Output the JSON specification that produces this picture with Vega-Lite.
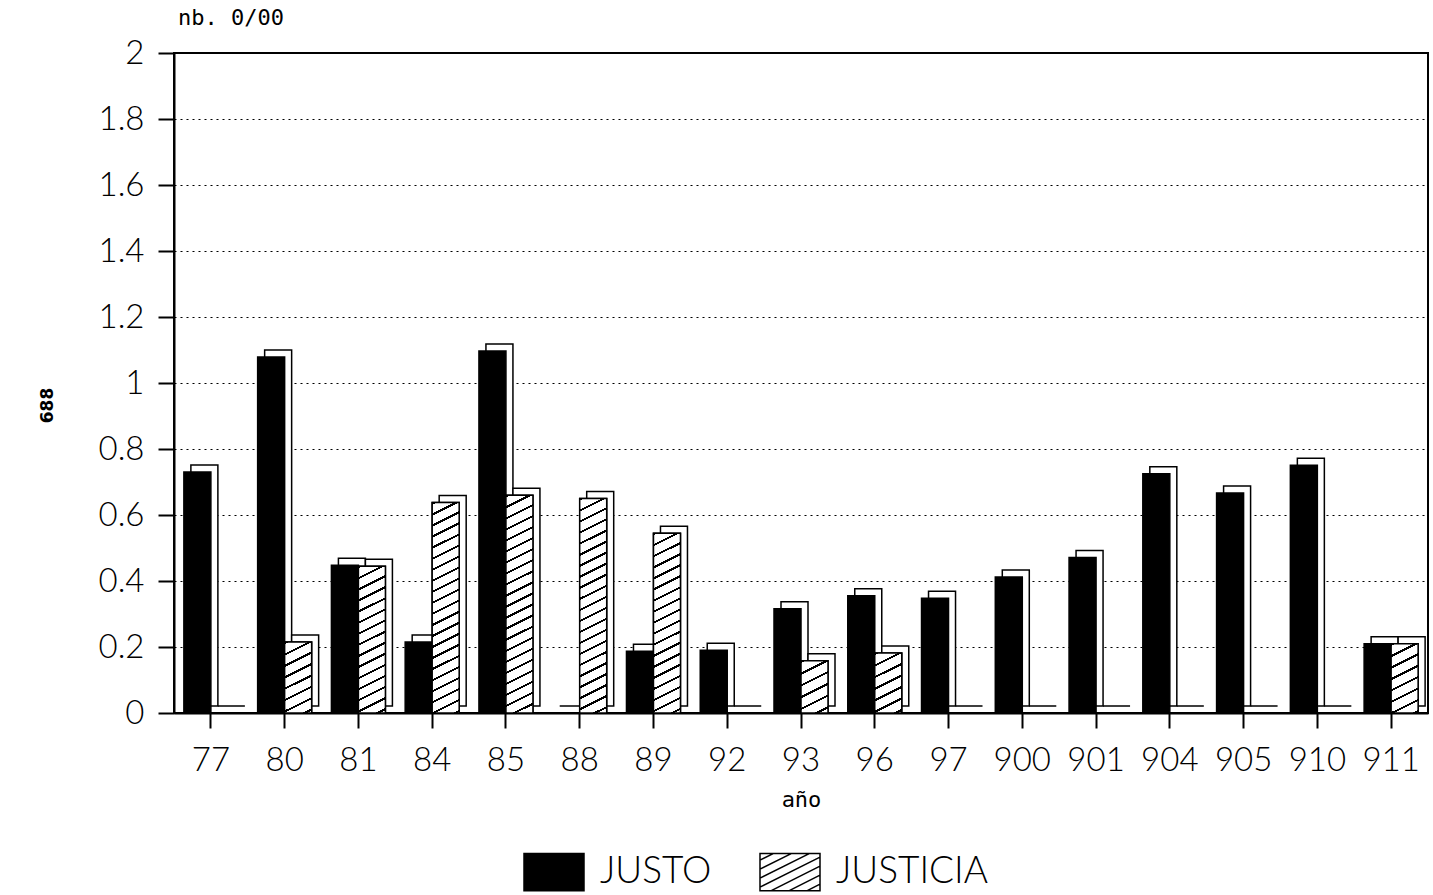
{
  "$schema": "https://vega.github.io/schema/vega-lite/v6.json",
  "width": 1254,
  "height": 660,
  "autosize": {"type": "none"},
  "padding": {"left": 174, "top": 53, "right": 5, "bottom": 182},
  "background": "white",
  "title": {"text": "nb. 0/00", "anchor": "start", "frame": "group", "font": "DejaVu Sans Mono", "fontSize": 22, "fontWeight": "normal", "color": "black", "offset": 7, "dx": 4},
  "data": {"values": [
    {"year": "77", "series": "JUSTO", "value": 0.73}, {"year": "77", "series": "JUSTICIA", "value": 0},
    {"year": "80", "series": "JUSTO", "value": 1.079}, {"year": "80", "series": "JUSTICIA", "value": 0.215},
    {"year": "81", "series": "JUSTO", "value": 0.448}, {"year": "81", "series": "JUSTICIA", "value": 0.445},
    {"year": "84", "series": "JUSTO", "value": 0.215}, {"year": "84", "series": "JUSTICIA", "value": 0.638},
    {"year": "85", "series": "JUSTO", "value": 1.097}, {"year": "85", "series": "JUSTICIA", "value": 0.66},
    {"year": "88", "series": "JUSTO", "value": 0}, {"year": "88", "series": "JUSTICIA", "value": 0.65},
    {"year": "89", "series": "JUSTO", "value": 0.187}, {"year": "89", "series": "JUSTICIA", "value": 0.545},
    {"year": "92", "series": "JUSTO", "value": 0.19}, {"year": "92", "series": "JUSTICIA", "value": 0},
    {"year": "93", "series": "JUSTO", "value": 0.316}, {"year": "93", "series": "JUSTICIA", "value": 0.158},
    {"year": "96", "series": "JUSTO", "value": 0.355}, {"year": "96", "series": "JUSTICIA", "value": 0.182},
    {"year": "97", "series": "JUSTO", "value": 0.348}, {"year": "97", "series": "JUSTICIA", "value": 0},
    {"year": "900", "series": "JUSTO", "value": 0.412}, {"year": "900", "series": "JUSTICIA", "value": 0},
    {"year": "901", "series": "JUSTO", "value": 0.471}, {"year": "901", "series": "JUSTICIA", "value": 0},
    {"year": "904", "series": "JUSTO", "value": 0.725}, {"year": "904", "series": "JUSTICIA", "value": 0},
    {"year": "905", "series": "JUSTO", "value": 0.667}, {"year": "905", "series": "JUSTICIA", "value": 0},
    {"year": "910", "series": "JUSTO", "value": 0.751}, {"year": "910", "series": "JUSTICIA", "value": 0},
    {"year": "911", "series": "JUSTO", "value": 0.21}, {"year": "911", "series": "JUSTICIA", "value": 0.21}
  ]},
  "encoding": {
    "x": {
      "field": "year", "type": "ordinal",
      "sort": ["77","80","81","84","85","88","89","92","93","96","97","900","901","904","905","910","911"],
      "scale": {"paddingInner": 0, "paddingOuter": 0},
      "title": "año",
      "axis": {"labelAngle": 0, "labelFont": "Lato", "labelFontWeight": 300, "labelFontSize": 33, "labelColor": "black", "labelPadding": 16,
               "tickSize": 15, "tickWidth": 2, "tickColor": "black", "domainColor": "black", "domainWidth": 2, "grid": false,
               "titleFont": "DejaVu Sans Mono", "titleFontSize": 22, "titleFontWeight": "normal", "titleColor": "black", "titlePadding": 12}
    },
    "y": {
      "field": "value", "type": "quantitative",
      "scale": {"domain": [0, 2], "nice": false},
      "title": "688",
      "axis": {"values": [0, 0.2, 0.4, 0.6, 0.8, 1, 1.2, 1.4, 1.6, 1.8, 2], "format": "~g",
               "labelFont": "Lato", "labelFontWeight": 300, "labelFontSize": 33, "labelColor": "black", "labelPadding": 14,
               "tickSize": 16, "tickWidth": 2, "tickColor": "black", "domainColor": "black", "domainWidth": 2,
               "grid": true, "gridColor": "black", "gridDash": [2, 4], "gridWidth": 1.2,
               "titleFont": "DejaVu Sans", "titleFontSize": 17, "titleFontWeight": "bold", "titleColor": "black", "titlePadding": 42, "titleY": 352}
    }
  },
  "layer": [
    {
      "transform": [{"filter": "datum.series === 'JUSTO'"}],
      "mark": {"type": "bar", "fill": "white", "stroke": "black", "strokeWidth": 1.5, "width": 27, "xOffset": -6.5, "yOffset": -7}
    },
    {
      "transform": [{"filter": "datum.series === 'JUSTICIA'"}],
      "mark": {"type": "bar", "fill": "white", "stroke": "black", "strokeWidth": 1.5, "width": 27, "xOffset": 20.5, "yOffset": -7}
    },
    {
      "mark": {"type": "bar", "strokeWidth": 1.5},
      "encoding": {
        "xOffset": {"field": "series", "type": "nominal", "scale": {"domain": ["JUSTO", "JUSTICIA"], "paddingInner": 0, "paddingOuter": 0.366}},
        "fill": {
          "field": "series", "type": "nominal",
          "scale": {"domain": ["JUSTO", "JUSTICIA"], "range": ["black", "white"]},
          "legend": {
            "title": null, "orient": "none", "legendX": 349, "legendY": 788, "direction": "horizontal",
            "labelFont": "Lato", "labelFontWeight": 300, "labelFontSize": 37, "labelColor": "black", "labelLimit": 400,
            "labelOffset": 15, "columnPadding": 45,
            "symbolType": "M-1,-0.62H1V0.62H-1Z M-1,-0.4L-0.56,-0.62 M-1,-0.1L0.04,-0.62 M-1,0.2L0.64,-0.62 M-1,0.5L1,-0.5 M-0.64,0.62L1,-0.2 M-0.04,0.62L1,0.1 M0.56,0.62L1,0.4",
            "symbolSize": 3600, "symbolStrokeWidth": 1.5
          }
        },
        "stroke": {
          "field": "series", "type": "nominal",
          "scale": {"domain": ["JUSTO", "JUSTICIA"], "range": ["black", "black"]},
          "legend": {
            "title": null, "orient": "none", "legendX": 349, "legendY": 788, "direction": "horizontal",
            "labelFont": "Lato", "labelFontWeight": 300, "labelFontSize": 37, "labelColor": "black", "labelLimit": 400,
            "labelOffset": 15, "columnPadding": 45,
            "symbolType": "M-1,-0.62H1V0.62H-1Z M-1,-0.4L-0.56,-0.62 M-1,-0.1L0.04,-0.62 M-1,0.2L0.64,-0.62 M-1,0.5L1,-0.5 M-0.64,0.62L1,-0.2 M-0.04,0.62L1,0.1 M0.56,0.62L1,0.4",
            "symbolSize": 3600, "symbolStrokeWidth": 1.5
          }
        }
      }
    },
    {
      "transform": [{"filter": "datum.series === 'JUSTICIA' && datum.value > 0"}],
      "encoding": {
        "xOffset": {"field": "series", "type": "nominal", "scale": {"domain": ["JUSTO", "JUSTICIA"], "paddingInner": 0, "paddingOuter": 0.366}}
      },
      "mark": {"type": "bar", "stroke": "black", "strokeWidth": 1.5,
        "fill": {"expr": "{gradient:'linear',x1:0,y1:0,x2:0.053/datum.value,y2:1.3,stops:[{offset:0,color:'#fff'},{offset:0,color:'#000'},{offset:0.2/datum.value/39,color:'#000'},{offset:0.2/datum.value/39,color:'#fff'},{offset:1/datum.value/39,color:'#fff'},{offset:1/datum.value/39,color:'#000'},{offset:1.2/datum.value/39,color:'#000'},{offset:1.2/datum.value/39,color:'#fff'},{offset:2/datum.value/39,color:'#fff'},{offset:2/datum.value/39,color:'#000'},{offset:2.2/datum.value/39,color:'#000'},{offset:2.2/datum.value/39,color:'#fff'},{offset:3/datum.value/39,color:'#fff'},{offset:3/datum.value/39,color:'#000'},{offset:3.2/datum.value/39,color:'#000'},{offset:3.2/datum.value/39,color:'#fff'},{offset:4/datum.value/39,color:'#fff'},{offset:4/datum.value/39,color:'#000'},{offset:4.2/datum.value/39,color:'#000'},{offset:4.2/datum.value/39,color:'#fff'},{offset:5/datum.value/39,color:'#fff'},{offset:5/datum.value/39,color:'#000'},{offset:5.2/datum.value/39,color:'#000'},{offset:5.2/datum.value/39,color:'#fff'},{offset:6/datum.value/39,color:'#fff'},{offset:6/datum.value/39,color:'#000'},{offset:6.2/datum.value/39,color:'#000'},{offset:6.2/datum.value/39,color:'#fff'},{offset:7/datum.value/39,color:'#fff'},{offset:7/datum.value/39,color:'#000'},{offset:7.2/datum.value/39,color:'#000'},{offset:7.2/datum.value/39,color:'#fff'},{offset:8/datum.value/39,color:'#fff'},{offset:8/datum.value/39,color:'#000'},{offset:8.2/datum.value/39,color:'#000'},{offset:8.2/datum.value/39,color:'#fff'},{offset:9/datum.value/39,color:'#fff'},{offset:9/datum.value/39,color:'#000'},{offset:9.2/datum.value/39,color:'#000'},{offset:9.2/datum.value/39,color:'#fff'},{offset:10/datum.value/39,color:'#fff'},{offset:10/datum.value/39,color:'#000'},{offset:10.2/datum.value/39,color:'#000'},{offset:10.2/datum.value/39,color:'#fff'},{offset:11/datum.value/39,color:'#fff'},{offset:11/datum.value/39,color:'#000'},{offset:11.2/datum.value/39,color:'#000'},{offset:11.2/datum.value/39,color:'#fff'},{offset:12/datum.value/39,color:'#fff'},{offset:12/datum.value/39,color:'#000'},{offset:12.2/datum.value/39,color:'#000'},{offset:12.2/datum.value/39,color:'#fff'},{offset:13/datum.value/39,color:'#fff'},{offset:13/datum.value/39,color:'#000'},{offset:13.2/datum.value/39,color:'#000'},{offset:13.2/datum.value/39,color:'#fff'},{offset:14/datum.value/39,color:'#fff'},{offset:14/datum.value/39,color:'#000'},{offset:14.2/datum.value/39,color:'#000'},{offset:14.2/datum.value/39,color:'#fff'},{offset:15/datum.value/39,color:'#fff'},{offset:15/datum.value/39,color:'#000'},{offset:15.2/datum.value/39,color:'#000'},{offset:15.2/datum.value/39,color:'#fff'},{offset:16/datum.value/39,color:'#fff'},{offset:16/datum.value/39,color:'#000'},{offset:16.2/datum.value/39,color:'#000'},{offset:16.2/datum.value/39,color:'#fff'},{offset:17/datum.value/39,color:'#fff'},{offset:17/datum.value/39,color:'#000'},{offset:17.2/datum.value/39,color:'#000'},{offset:17.2/datum.value/39,color:'#fff'},{offset:18/datum.value/39,color:'#fff'},{offset:18/datum.value/39,color:'#000'},{offset:18.2/datum.value/39,color:'#000'},{offset:18.2/datum.value/39,color:'#fff'},{offset:19/datum.value/39,color:'#fff'},{offset:19/datum.value/39,color:'#000'},{offset:19.2/datum.value/39,color:'#000'},{offset:19.2/datum.value/39,color:'#fff'},{offset:20/datum.value/39,color:'#fff'},{offset:20/datum.value/39,color:'#000'},{offset:20.2/datum.value/39,color:'#000'},{offset:20.2/datum.value/39,color:'#fff'},{offset:21/datum.value/39,color:'#fff'},{offset:21/datum.value/39,color:'#000'},{offset:21.2/datum.value/39,color:'#000'},{offset:21.2/datum.value/39,color:'#fff'},{offset:22/datum.value/39,color:'#fff'},{offset:22/datum.value/39,color:'#000'},{offset:22.2/datum.value/39,color:'#000'},{offset:22.2/datum.value/39,color:'#fff'},{offset:23/datum.value/39,color:'#fff'},{offset:23/datum.value/39,color:'#000'},{offset:23.2/datum.value/39,color:'#000'},{offset:23.2/datum.value/39,color:'#fff'},{offset:24/datum.value/39,color:'#fff'},{offset:24/datum.value/39,color:'#000'},{offset:24.2/datum.value/39,color:'#000'},{offset:24.2/datum.value/39,color:'#fff'},{offset:25/datum.value/39,color:'#fff'},{offset:25/datum.value/39,color:'#000'},{offset:25.2/datum.value/39,color:'#000'},{offset:25.2/datum.value/39,color:'#fff'}]}"}
      }
    }
  ],
  "config": {
    "view": {"stroke": "black", "strokeWidth": 2},
    "font": "Lato"
  }
}
